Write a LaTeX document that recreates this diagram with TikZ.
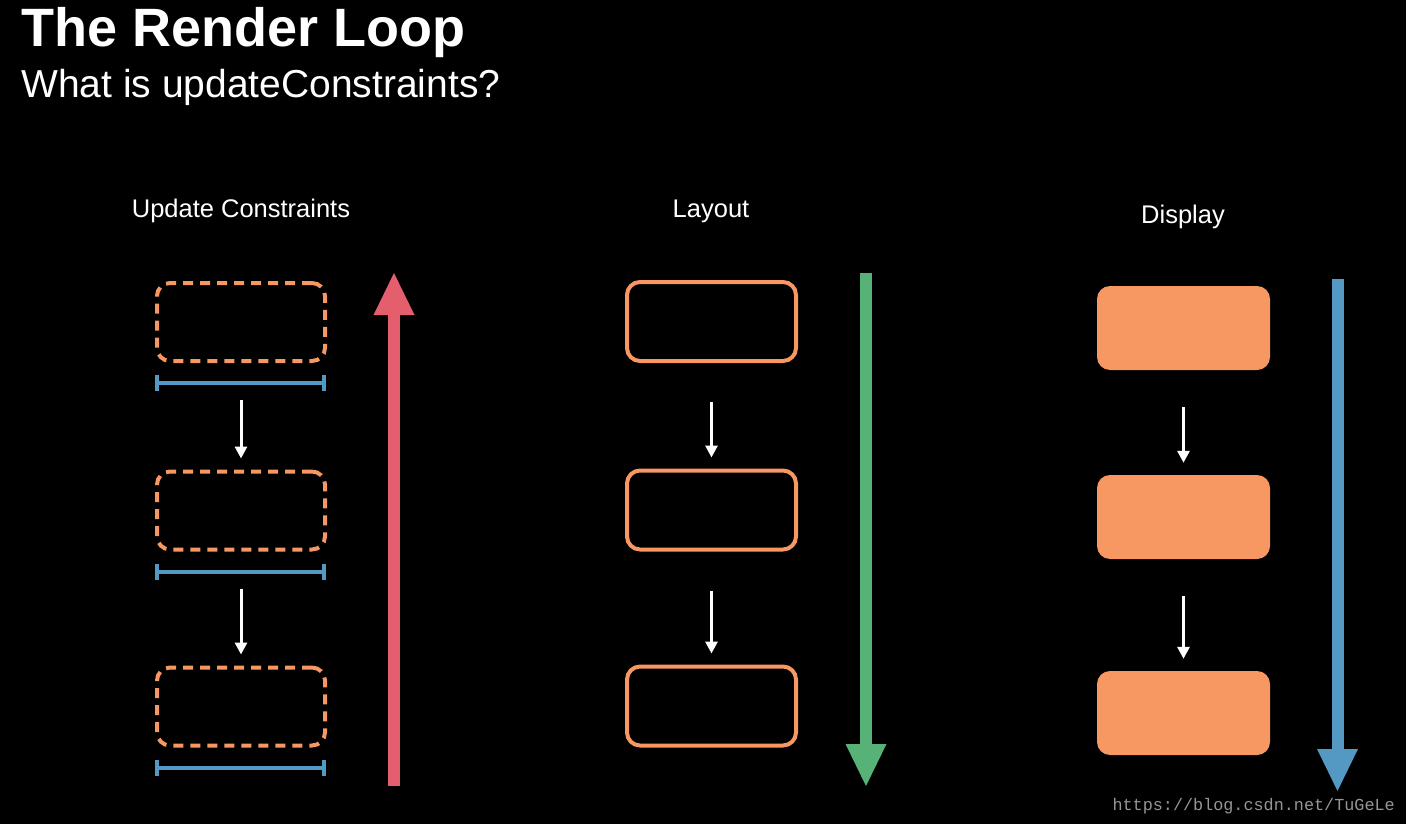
\documentclass[tikz,border=0pt]{standalone}
\usepackage{fontspec}
\setmainfont{Liberation Sans}
\newfontfamily\markfont{Liberation Mono}
\usetikzlibrary{arrows.meta}

\definecolor{boxorange}{RGB}{247,152,98}
\definecolor{barblue}{RGB}{84,152,196}
\definecolor{uparrowred}{RGB}{228,94,110}
\definecolor{downgreen}{RGB}{87,178,120}

\begin{document}
\begin{tikzpicture}
            [x=1pt, y=-1pt,
            dashbox/.style={draw=boxorange, line width=4pt, rounded corners=13pt, dash pattern=on 10pt off 7pt,
                minimum width=168pt, minimum height=78pt, inner sep=0pt},
            linebox/.style={draw=boxorange, line width=4pt, rounded corners=13pt,
                minimum width=169pt, minimum height=79pt, inner sep=0pt},
            fillbox/.style={fill=boxorange, rounded corners=13pt,
                minimum width=173pt, minimum height=84pt, inner sep=0pt},
            span/.style={barblue, line width=4pt, {Bar[width=16pt]}-{Bar[width=16pt]}},
            stepline/.style={white, line width=3pt, -{Triangle[width=12pt,length=12pt]}},
            bigarrow/.style={line width=12pt, -{Triangle[width=41pt,length=42pt,line width=0pt]}},
            heading/.style={white, anchor=base, font=\fontsize{25.5}{30}\selectfont}]

            \fill[black] (0,0) rectangle (1406,824);
            \useasboundingbox (0,0) rectangle (1406,824);

            % Title
            \node[white, anchor=base west, inner sep=0pt, font=\fontsize{54}{60}\selectfont\bfseries] (title) at (21,47) {The Render Loop};
            \node[white, anchor=base west, inner sep=0pt, font=\fontsize{39}{46}\selectfont] (subtitle) at (21,98) {What is updateConstraints?};

            % Column headings
            \node[heading] (hu) at (241,217) {Update Constraints};
            \node[heading] (hl) at (711,217) {Layout};
            \node[heading] (hd) at (1183,223) {Display};

            % Update Constraints
            \node[dashbox] (u1) at (241,322) {};
            \node[dashbox] (u2) at (241,510.5) {};
            \node[dashbox] (u3) at (241,706.5) {};

            % Layout
            \node[linebox] (l1) at (711.5,321.5) {};
            \node[linebox] (l2) at (711.5,510) {};
            \node[linebox] (l3) at (711.5,706) {};

            % Display
            \node[fillbox] (d1) at (1183.5,328) {};
            \node[fillbox] (d2) at (1183.5,517) {};
            \node[fillbox] (d3) at (1183.5,713) {};

            % Blue spans under the dashed boxes
            \foreach \b in {u1,u2,u3}
                \draw[span] ([shift={(0,20)}]\b.south west) -- ([shift={(-1,20)}]\b.south east);

            % White steps
            \draw[stepline, shorten <=37pt, shorten >=11pt] (u1) -- (u2);
            \draw[stepline, shorten <=37pt, shorten >=11pt] (u2) -- (u3);
            \draw[stepline, shorten <=39pt, shorten >=11pt] (l1) -- (l2);
            \draw[stepline, shorten <=39pt, shorten >=11pt] (l2) -- (l3);
            \draw[stepline, shorten <=37pt, shorten >=12pt] (d1) -- (d2);
            \draw[stepline, shorten <=37pt, shorten >=12pt] (d2) -- (d3);

            % Big arrows
            \coordinate (rs) at (394,786);
            \coordinate (rt) at (394,273);
            \coordinate (gs) at (866,273);
            \coordinate (gt) at (866,786);
            \coordinate (bs) at (1337.5,279);
            \coordinate (bt) at (1337.5,791);
            \draw[bigarrow, uparrowred] (rs) -- (rt);
            \draw[bigarrow, downgreen] (gs) -- (gt);
            \draw[bigarrow, barblue] (bs) -- (bt);

            % Watermark
            \node[anchor=base east, inner sep=0pt, text={rgb,255:red,150;green,150;blue,150}, font=\markfont\fontsize{16.8}{20}\selectfont] (mark) at (1395,810) {https://blog.csdn.net/TuGeLe};

        \end{tikzpicture}
\end{document}
